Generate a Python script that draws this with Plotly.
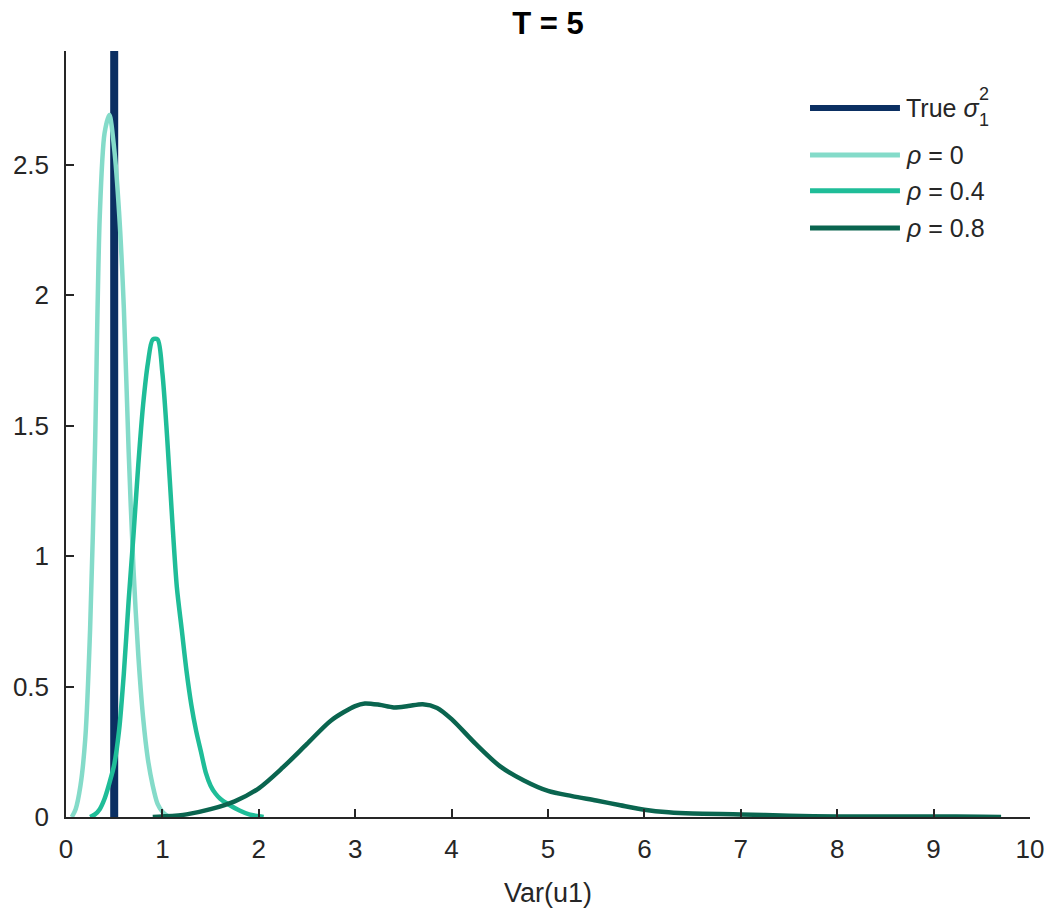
import plotly.graph_objects as go

# Kernel density estimates of Var(u1) for T = 5
true_sigma2 = 0.5

x_rho0 = [0.06, 0.10, 0.15, 0.20, 0.25, 0.30, 0.35, 0.40, 0.45, 0.50, 0.55,
          0.60, 0.65, 0.70, 0.75, 0.80, 0.85, 0.90, 0.95, 1.00, 1.05, 1.10]
y_rho0 = [0.00, 0.03, 0.12, 0.30, 0.72, 1.40, 2.30, 2.62, 2.69, 2.56, 2.32,
          1.95, 1.40, 0.95, 0.62, 0.38, 0.22, 0.12, 0.05, 0.02, 0.005, 0.0]

x_rho4 = [0.25, 0.30, 0.35, 0.40, 0.45, 0.50, 0.55, 0.60, 0.65, 0.70, 0.75,
          0.80, 0.85, 0.90, 0.95, 1.00, 1.05, 1.10, 1.15, 1.20, 1.25, 1.30,
          1.35, 1.40, 1.45, 1.50, 1.55, 1.60, 1.70, 1.80, 1.90, 2.00, 2.05]
y_rho4 = [0.00, 0.01, 0.03, 0.07, 0.13, 0.20, 0.33, 0.55, 0.83, 1.08, 1.35,
          1.58, 1.74, 1.83, 1.83, 1.70, 1.45, 1.15, 0.88, 0.72, 0.56, 0.43,
          0.33, 0.25, 0.17, 0.12, 0.09, 0.07, 0.045, 0.025, 0.01, 0.003, 0.0]

x_rho8 = [0.90, 1.00, 1.25, 1.50, 1.75, 2.00, 2.25, 2.50, 2.75, 3.00, 3.10,
          3.25, 3.40, 3.55, 3.70, 3.85, 4.00, 4.25, 4.50, 4.75, 5.00, 5.25,
          5.50, 5.75, 6.00, 6.25, 6.50, 7.00, 7.50, 8.00, 8.50, 9.00, 9.50, 9.70]
y_rho8 = [0.00, 0.002, 0.01, 0.03, 0.06, 0.11, 0.19, 0.28, 0.37, 0.425, 0.435,
          0.43, 0.42, 0.425, 0.432, 0.418, 0.375, 0.28, 0.195, 0.14, 0.10, 0.08,
          0.063, 0.045, 0.028, 0.018, 0.013, 0.01, 0.005, 0.002, 0.002, 0.002, 0.001, 0.0]

x_ticks = list(range(0, 11))
y_ticks = [0, 0.5, 1, 1.5, 2, 2.5]
y_tick_text = ["0", "0.5", "1", "1.5", "2", "2.5"]
y_max = 2.935

c_true = "#0b2f62"
c_rho0 = "#84dbc9"
c_rho4 = "#1fbd98"
c_rho8 = "#0a654f"

series = [
    ("ρ = 0", x_rho0, y_rho0, c_rho0),
    ("ρ = 0.4", x_rho4, y_rho4, c_rho4),
    ("ρ = 0.8", x_rho8, y_rho8, c_rho8),
]

fig = go.Figure()
fig.add_trace(go.Scatter(x=[true_sigma2, true_sigma2], y=[0, y_max], mode="lines",
                         line=dict(color=c_true, width=8), showlegend=False))
for name, xs, ys, col in series:
    fig.add_trace(go.Scatter(x=xs, y=ys, mode="lines", name=name,
                             line=dict(color=col, width=4.5, shape="spline", smoothing=0.8),
                             showlegend=False))

FONT = "Liberation Sans, Arial, Helvetica, sans-serif"
TXT = "#262626"

# Legend drawn in paper coordinates: sample line + label per entry
legend_rows = [
    (c_true, 0.9256, "True <i>σ</i>"),
    (c_rho0, 0.8642, "<i>ρ</i> = 0"),
    (c_rho4, 0.8176, "<i>ρ</i> = 0.4"),
    (c_rho8, 0.7689, "<i>ρ</i> = 0.8"),
]
for i, (col, yy, label) in enumerate(legend_rows):
    fig.add_shape(type="line", xref="paper", yref="paper", x0=0.7718, x1=0.8651,
                  y0=yy, y1=yy, line=dict(color=col, width=6 if i == 0 else 5))
    fig.add_annotation(xref="paper", yref="paper", x=0.8693, y=yy, text=label,
                       showarrow=False, xanchor="left", yanchor="middle",
                       font=dict(family=FONT, size=25, color=TXT))
# superscript / subscript stacked after sigma
fig.add_annotation(xref="paper", yref="paper", x=0.945, y=0.9256 + 0.018, text="2",
                   showarrow=False, xanchor="left", yanchor="middle",
                   font=dict(family=FONT, size=18, color=TXT))
fig.add_annotation(xref="paper", yref="paper", x=0.945, y=0.9256 - 0.016, text="1",
                   showarrow=False, xanchor="left", yanchor="middle",
                   font=dict(family=FONT, size=18, color=TXT))

fig.update_layout(
    width=1055, height=915,
    margin=dict(l=66, r=25, t=51, b=98),
    paper_bgcolor="white", plot_bgcolor="white",
    font=dict(family=FONT, size=26, color=TXT),
    title=dict(text="<b>T = 5</b>", x=(66 + 482) / 1055, xanchor="center",
               y=1 - 23 / 915, yanchor="middle",
               font=dict(family=FONT, size=31, color="#000000")),
    showlegend=False,
)
fig.update_xaxes(range=[0, 10], tickvals=x_ticks, ticktext=[str(t) for t in x_ticks],
                 showgrid=False, zeroline=False, showline=True, linecolor=TXT, linewidth=1.5,
                 ticks="inside", ticklen=8, tickwidth=1.5, tickcolor=TXT,
                 tickfont=dict(family=FONT, size=26, color=TXT),
                 ticklabelstandoff=8,
                 title=dict(text="Var(u1)", font=dict(family=FONT, size=27, color=TXT), standoff=20))
fig.update_yaxes(range=[0, y_max], tickvals=y_ticks, ticktext=y_tick_text,
                 showgrid=False, zeroline=False, showline=True, linecolor=TXT, linewidth=1.5,
                 ticks="inside", ticklen=8, tickwidth=1.5, tickcolor=TXT,
                 tickfont=dict(family=FONT, size=26, color=TXT),
                 ticklabelstandoff=10)

fig.write_html("out.html")
